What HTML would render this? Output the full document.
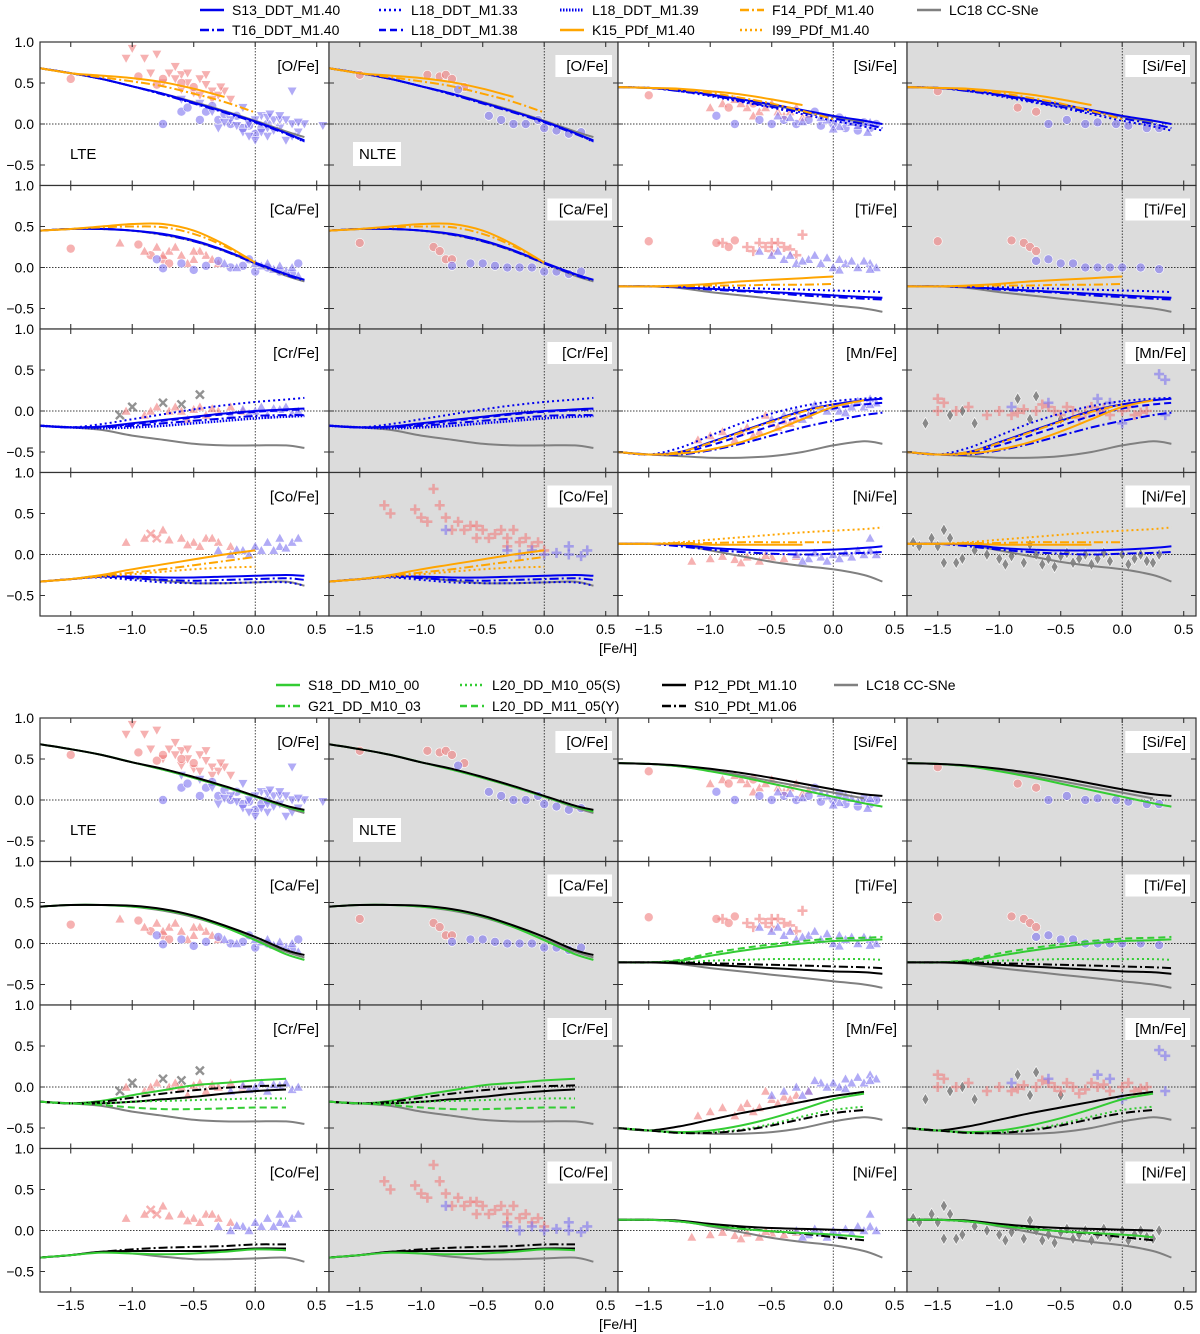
<!DOCTYPE html>
<html><head><meta charset="utf-8"><style>
html,body{margin:0;padding:0;background:#fff;}
svg{display:block;font-family:"Liberation Sans","DejaVu Sans",sans-serif;}
</style></head><body>
<svg id="fig" width="1200" height="1334" viewBox="0 0 1200 1334" xmlns="http://www.w3.org/2000/svg"></svg>
<script>
// ---------- data ----------
const gridX = [-1.75,-1.5,-1.25,-1.0,-0.75,-0.5,-0.25,0,0.25,0.4];
const xTicks = [-1.5,-1.0,-0.5,0.0,0.5];
const xTickLabels = ["\u22121.5","\u22121.0","\u22120.5","0.0","0.5"];
const yTicks = [1.0,0.5,0.0,-0.5];
const yTickLabels = ["1.0","0.5","0.0","\u22120.5"];
const panelRows = [["O","Si"],["Ca","Ti"],["Cr","Mn"],["Co","Ni"]];

const topCurves = {
 O:{LC:[0.68,0.62,0.55,0.46,0.37,0.27,0.16,0.04,-0.09,-0.16],S13:[0.68,0.62,0.55,0.46,0.37,0.26,0.15,0.03,-0.11,-0.2],T16:[0.68,0.62,0.55,0.46,0.36,0.25,0.14,0.02,-0.12,-0.21],L33:[0.68,0.62,0.55,0.46,0.36,0.26,0.15,0.03,-0.11,-0.22],K15:[0.68,0.62,0.59,0.56,0.51,0.43,0.33,null,null,null],F14:[0.68,0.62,0.57,0.52,0.46,0.37,0.27,0.14,null,null]},
 Si:{LC:[0.45,0.44,0.41,0.36,0.3,0.23,0.16,0.09,0.02,null],S13:[0.45,0.44,0.41,0.36,0.3,0.24,0.17,0.1,0.04,0.0],T16:[0.45,0.44,0.4,0.35,0.28,0.21,0.14,0.07,0.0,-0.05],L33:[0.45,0.44,0.4,0.34,0.27,0.2,0.12,0.04,-0.03,-0.08],K15:[0.45,0.44,0.43,0.4,0.36,0.3,0.23,null,null,null],F14:[0.45,0.44,0.42,0.38,0.32,0.25,0.16,0.06,null,null]},
 Ca:{LC:[0.45,0.47,0.47,0.45,0.4,0.32,0.2,0.05,-0.1,-0.17],S13:[0.45,0.47,0.47,0.45,0.41,0.33,0.21,0.06,-0.08,-0.15],T16:[0.45,0.47,0.47,0.45,0.4,0.32,0.2,0.05,-0.09,-0.16],K15:[0.45,0.47,0.5,0.53,0.53,0.45,0.28,0.06,null,null],F14:[0.45,0.47,0.49,0.5,0.49,0.41,0.26,0.06,null,null]},
 Ti:{LC:[-0.23,-0.23,-0.25,-0.3,-0.34,-0.38,-0.42,-0.46,-0.5,-0.54],S13:[-0.23,-0.23,-0.24,-0.26,-0.28,-0.3,-0.32,-0.34,-0.36,-0.37],T16:[-0.23,-0.23,-0.24,-0.27,-0.29,-0.31,-0.34,-0.36,-0.38,-0.39],L33:[-0.23,-0.23,-0.23,-0.24,-0.25,-0.26,-0.27,-0.28,-0.29,-0.3],K15:[-0.23,-0.23,-0.22,-0.2,-0.17,-0.15,-0.13,-0.11,null,null],F14:[-0.23,-0.23,-0.23,-0.22,-0.22,-0.21,-0.21,-0.2,null,null]},
 Cr:{LC:[-0.18,-0.2,-0.23,-0.3,-0.35,-0.4,-0.42,-0.42,-0.42,-0.45],S13:[-0.18,-0.2,-0.19,-0.15,-0.11,-0.07,-0.03,0.0,0.02,0.03],T16:[-0.18,-0.2,-0.2,-0.18,-0.15,-0.12,-0.09,-0.06,-0.05,-0.05],L33:[-0.18,-0.2,-0.16,-0.1,-0.04,0.02,0.07,0.11,0.14,0.16],L38:[-0.18,-0.2,-0.19,-0.16,-0.12,-0.08,-0.04,-0.01,0.01,0.02],L39:[-0.18,-0.2,-0.21,-0.2,-0.18,-0.15,-0.12,-0.09,-0.07,-0.06]},
 Mn:{LC:[-0.5,-0.53,-0.55,-0.57,-0.57,-0.55,-0.5,-0.42,-0.37,-0.4],S13:[-0.5,-0.53,-0.5,-0.38,-0.25,-0.12,0.0,0.08,0.13,0.15],L33:[-0.5,-0.53,-0.45,-0.3,-0.15,-0.03,0.06,0.12,0.15,0.16],T16:[-0.5,-0.53,-0.53,-0.48,-0.4,-0.3,-0.2,-0.12,-0.05,-0.02],L38:[-0.5,-0.53,-0.51,-0.42,-0.3,-0.18,-0.06,0.03,0.08,0.1],K15:[-0.5,-0.53,-0.52,-0.47,-0.38,-0.25,-0.1,0.05,0.13,null],F14:[-0.5,-0.53,-0.5,-0.39,-0.26,-0.13,-0.01,0.08,null,null]},
 Co:{LC:[-0.33,-0.3,-0.26,-0.28,-0.32,-0.35,-0.35,-0.34,-0.33,-0.38],S13:[-0.33,-0.3,-0.27,-0.27,-0.28,-0.28,-0.27,-0.26,-0.25,-0.26],L33:[-0.33,-0.3,-0.28,-0.31,-0.34,-0.35,-0.35,-0.34,-0.34,-0.38],T16:[-0.33,-0.3,-0.27,-0.29,-0.31,-0.32,-0.31,-0.3,-0.29,-0.31],K15:[-0.33,-0.3,-0.25,-0.18,-0.12,-0.06,0.0,0.05,null,null],F14:[-0.33,-0.3,-0.26,-0.22,-0.18,-0.13,-0.08,-0.03,null,null],I99:[-0.33,-0.3,-0.27,-0.24,-0.21,-0.18,-0.16,-0.15,null,null]},
 Ni:{LC:[0.13,0.13,0.12,0.05,-0.02,-0.09,-0.14,-0.18,-0.25,-0.33],S13:[0.13,0.13,0.12,0.08,0.06,0.05,0.05,0.06,0.08,0.1],T16:[0.13,0.13,0.1,0.06,0.03,0.01,0.0,0.01,0.02,0.03],K15:[0.13,0.13,0.13,0.12,0.12,0.12,0.12,null,null,null],F14:[0.13,0.13,0.14,0.14,0.15,0.15,0.15,0.15,null,null],I99:[0.13,0.13,0.15,0.18,0.21,0.24,0.27,0.29,0.31,0.33]}
};
const botCurves = {
 O:{LC:[0.68,0.62,0.55,0.46,0.37,0.27,0.16,0.04,-0.09,-0.16],S18:[0.68,0.62,0.55,0.46,0.37,0.27,0.16,0.04,-0.08,-0.14],P12:[0.68,0.62,0.55,0.46,0.38,0.28,0.17,0.05,-0.07,-0.12]},
 Si:{LC:[0.45,0.44,0.41,0.36,0.3,0.23,0.16,0.09,0.02,null],S18:[0.45,0.44,0.41,0.35,0.28,0.2,0.12,0.04,-0.04,-0.08],P12:[0.45,0.44,0.42,0.38,0.33,0.27,0.2,0.13,0.07,0.05]},
 Ca:{LC:[0.45,0.47,0.47,0.45,0.4,0.32,0.2,0.05,-0.1,-0.17],S18:[0.45,0.47,0.47,0.45,0.41,0.33,0.2,0.04,-0.13,-0.2],P12:[0.45,0.47,0.47,0.46,0.42,0.34,0.22,0.08,-0.08,-0.14]},
 Ti:{LC:[-0.23,-0.23,-0.25,-0.3,-0.34,-0.38,-0.42,-0.46,-0.5,-0.54],L20Y:[-0.23,-0.23,-0.2,-0.12,-0.06,-0.01,0.03,0.06,0.07,0.08],S18:[-0.23,-0.23,-0.21,-0.15,-0.09,-0.04,0.0,0.03,0.04,0.05],L20S:[-0.23,-0.23,-0.23,-0.21,-0.2,-0.19,-0.19,-0.19,-0.19,-0.2],P12:[-0.23,-0.23,-0.24,-0.26,-0.28,-0.3,-0.32,-0.34,-0.35,-0.37],S10:[-0.23,-0.23,-0.23,-0.24,-0.25,-0.26,-0.27,-0.28,-0.29,-0.3]},
 Cr:{LC:[-0.18,-0.2,-0.23,-0.3,-0.35,-0.4,-0.42,-0.42,-0.42,-0.45],S18:[-0.18,-0.2,-0.17,-0.1,-0.04,0.02,0.05,0.08,0.1,null],S10:[-0.18,-0.2,-0.18,-0.13,-0.08,-0.04,-0.01,0.01,0.02,null],P12:[-0.18,-0.2,-0.2,-0.18,-0.15,-0.12,-0.08,-0.05,-0.03,null],L20S:[-0.18,-0.2,-0.2,-0.18,-0.17,-0.16,-0.15,-0.14,-0.14,null],L20Y:[-0.18,-0.2,-0.22,-0.25,-0.27,-0.27,-0.26,-0.25,-0.25,null]},
 Mn:{LC:[-0.5,-0.53,-0.55,-0.57,-0.57,-0.55,-0.5,-0.42,-0.37,-0.4],P12:[-0.5,-0.53,-0.48,-0.4,-0.32,-0.25,-0.18,-0.11,-0.06,null],S18:[-0.5,-0.53,-0.55,-0.53,-0.47,-0.38,-0.27,-0.15,-0.08,null],L20S:[-0.5,-0.53,-0.56,-0.55,-0.52,-0.45,-0.36,-0.28,-0.24,null],S10:[-0.5,-0.53,-0.56,-0.56,-0.53,-0.47,-0.39,-0.32,-0.28,null]},
 Co:{LC:[-0.33,-0.3,-0.26,-0.28,-0.32,-0.35,-0.35,-0.34,-0.33,-0.38],S10:[-0.33,-0.3,-0.26,-0.23,-0.21,-0.2,-0.19,-0.17,-0.17,null],P12:[-0.33,-0.3,-0.26,-0.25,-0.25,-0.25,-0.24,-0.22,-0.22,null],S18:[-0.33,-0.3,-0.27,-0.28,-0.29,-0.28,-0.26,-0.23,-0.24,null]},
 Ni:{LC:[0.13,0.13,0.12,0.05,-0.02,-0.09,-0.14,-0.18,-0.25,-0.33],P12:[0.13,0.13,0.12,0.08,0.05,0.03,0.02,0.01,0.0,null],S10:[0.13,0.13,0.11,0.07,0.03,-0.01,-0.04,-0.08,-0.12,null],S18:[0.13,0.13,0.11,0.06,0.02,-0.01,-0.03,-0.05,-0.08,null]}
};

const scatterSets = {
 OL:[{m:"v",c:"r",p:[[-1.0,0.92],[-1.05,0.8],[-0.9,0.8],[-0.8,0.85],[-0.85,0.62],[-0.7,0.62],[-0.6,0.6],[-0.65,0.55],[-0.55,0.5],[-0.45,0.55],[-0.4,0.48],[-0.35,0.4],[-0.3,0.35],[-0.5,0.38],[-0.2,0.3],[-0.25,0.4],[-0.75,0.5],[-0.6,0.42],[-0.45,0.35],[-0.35,0.3],[-0.55,0.62],[-0.65,0.7],[-0.28,0.45],[-0.4,0.6]]},
     {m:"o",c:"r",p:[[-1.5,0.55],[-0.95,0.58],[-0.75,0.55],[-0.6,0.5],[-0.8,0.48],[-0.5,0.45]]},
     {m:"o",c:"b",p:[[-0.75,0.0],[-0.6,0.15],[-0.55,0.2],[-0.4,0.15],[-0.3,0.05],[-0.2,0.0],[-0.1,-0.05],[0.0,-0.12],[0.05,-0.05],[-0.15,0.1],[-0.45,0.05],[-0.35,0.22],[-0.25,0.12],[0.1,0.0],[-0.05,-0.02]]},
     {m:"v",c:"b",p:[[-0.6,0.3],[-0.45,0.25],[-0.35,0.15],[-0.2,0.05],[-0.1,-0.1],[0,-0.2],[0.1,-0.15],[0.2,-0.05],[0.3,0.0],[0.35,-0.1],[0.15,0.05],[0.05,0.1],[-0.1,0.2],[0.25,-0.2],[-0.05,0.0],[0.4,0.0],[0.55,-0.02],[0.3,0.4],[0.1,0.08],[0.2,0.05],[-0.3,-0.05],[-0.15,-0.02],[0.0,0.05],[0.05,-0.1],[0.15,-0.08],[0.25,0.05],[0.3,-0.15],[0.2,0.1],[-0.25,0.02],[0.1,-0.05],[0.35,0.02],[-0.05,-0.15],[0.12,0.12]]}],
 ON:[{m:"o",c:"r",p:[[-1.5,0.6],[-0.95,0.6],[-0.85,0.58],[-0.8,0.6],[-0.75,0.55],[-0.65,0.45]]},
     {m:"o",c:"b",p:[[-0.7,0.42],[-0.45,0.1],[-0.35,0.05],[-0.25,0.0],[-0.15,0.0],[-0.05,0.05],[0.0,-0.05],[0.1,-0.08],[0.2,-0.12],[0.3,-0.1]]}],
 SiL:[{m:"^",c:"r",p:[[-1.0,0.2],[-0.9,0.25],[-0.8,0.3],[-0.7,0.2],[-0.6,0.15],[-0.5,0.25],[-0.4,0.1],[-0.3,0.2],[-0.2,0.12],[-0.45,0.15],[-0.75,0.25],[-0.55,0.2],[-0.35,0.15],[-0.25,0.08],[-0.65,0.1]]},
      {m:"o",c:"r",p:[[-1.5,0.35],[-0.85,0.2],[-0.65,0.25]]},
      {m:"o",c:"b",p:[[-0.6,0.05],[-0.5,0.0],[-0.4,0.05],[-0.3,0.0],[-0.2,0.05],[-0.1,-0.02],[0,0.0],[0.1,-0.05],[0.2,-0.08],[0.3,-0.05],[0.35,0.0],[-0.15,0.15],[0.05,0.08],[0.25,0.02],[-0.8,0.0],[-0.95,0.1]]},
      {m:"^",c:"b",p:[[-0.35,0.08],[-0.25,0.03],[-0.05,0.05],[0.05,-0.03],[0.15,0.02],[0.2,-0.02],[0.3,0.02],[0.1,0.05],[-0.1,0.08],[0.0,-0.06],[-0.45,0.1],[0.28,-0.1]]}],
 SiN:[{m:"o",c:"r",p:[[-1.5,0.4],[-0.85,0.2],[-0.7,0.15]]},
      {m:"o",c:"b",p:[[-0.6,0.0],[-0.45,0.05],[-0.3,0.0],[-0.2,0.02],[-0.05,0.0],[0.05,-0.02],[0.2,-0.05],[0.3,-0.05]]}],
 CaL:[{m:"o",c:"r",p:[[-1.5,0.23],[-0.95,0.28],[-0.85,0.15],[-0.75,0.1],[-0.7,0.05]]},
      {m:"^",c:"r",p:[[-1.1,0.3],[-0.9,0.2],[-0.8,0.25],[-0.7,0.2],[-0.6,0.15],[-0.5,0.1],[-0.4,0.15],[-0.3,0.05],[-0.55,0.05],[-0.45,0.2],[-0.75,0.15],[-0.65,0.25],[-0.35,0.1],[-0.5,0.2]]},
      {m:"o",c:"b",p:[[-0.8,0.1],[-0.75,-0.01],[-0.6,0.05],[-0.5,-0.03],[-0.4,0.02],[-0.3,0.08],[-0.2,0.0],[-0.1,0.02],[0.0,-0.05],[0.1,0.0],[0.2,-0.05],[0.3,-0.08],[0.35,0.05],[-0.05,0.1]]},
      {m:"^",c:"b",p:[[-0.25,0.05],[-0.15,0.0],[0.05,0.02],[0.15,-0.02],[0.25,-0.04],[0.3,0.0],[0.0,0.05],[0.1,0.05],[0.35,-0.1],[0.2,0.02]]}],
 CaN:[{m:"o",c:"r",p:[[-1.5,0.3],[-0.9,0.25],[-0.85,0.2],[-0.8,0.1],[-0.75,0.1]]},
      {m:"o",c:"b",p:[[-0.75,0.02],[-0.6,0.05],[-0.5,0.05],[-0.4,0.02],[-0.3,0.0],[-0.2,0.0],[-0.1,0.0],[0.0,-0.05],[0.1,-0.05],[0.2,-0.08],[0.3,-0.05]]}],
 TiL:[{m:"o",c:"r",p:[[-1.5,0.32],[-0.95,0.3],[-0.85,0.25],[-0.8,0.33]]},
      {m:"+",c:"r",p:[[-0.9,0.3],[-0.7,0.25],[-0.6,0.3],[-0.5,0.2],[-0.4,0.25],[-0.45,0.3],[-0.3,0.15],[-0.35,0.22],[-0.25,0.4],[-0.55,0.25],[-0.65,0.2],[-0.5,0.3]]},
      {m:"^",c:"b",p:[[-0.5,0.15],[-0.4,0.1],[-0.3,0.05],[-0.2,0.1],[-0.1,0.05],[0.0,0.0],[0.1,0.05],[0.2,0.0],[0.3,0.05],[0.35,0.0],[-0.15,0.15],[0.05,0.1],[-0.6,0.2],[0.25,0.08],[-0.35,0.15],[-0.25,0.08],[-0.05,0.12],[0.15,0.08],[0.05,-0.03],[0.3,-0.02],[-0.45,0.2]]}],
 TiN:[{m:"o",c:"r",p:[[-1.5,0.32],[-0.9,0.33],[-0.8,0.3],[-0.75,0.25],[-0.7,0.2]]},
      {m:"o",c:"b",p:[[-0.7,0.08],[-0.6,0.1],[-0.5,0.05],[-0.4,0.05],[-0.3,0.0],[-0.2,0.0],[-0.1,0.0],[0,0.0],[0.15,0.0],[0.3,-0.02]]}],
 CrL:[{m:"x",c:"g",p:[[-1.1,-0.05],[-0.75,0.1],[-0.6,0.08],[-0.45,0.2],[-1.0,0.05]]},
      {m:"^",c:"r",p:[[-1.05,0.0],[-0.9,-0.05],[-0.8,0.05],[-0.7,0.0],[-0.6,0.0],[-0.5,0.02],[-0.4,-0.05],[-0.3,0.0],[-0.2,0.05],[-0.1,0.0],[-0.55,-0.1],[-0.65,0.05],[-0.45,0.05],[-0.35,0.03],[-0.85,0.0]]},
      {m:"^",c:"b",p:[[-0.2,-0.05],[-0.1,0.02],[0,0.0],[0.1,-0.05],[0.2,0.02],[0.3,-0.03],[0.35,0.0],[0.05,0.05],[-0.05,-0.03],[0.15,0.03],[0.25,0.05]]}],
 CrN:[],
 MnL:[{m:"^",c:"r",p:[[-1.1,-0.35],[-1.0,-0.3],[-0.9,-0.25],[-0.8,-0.35],[-0.7,-0.2],[-0.6,-0.25],[-0.5,-0.15],[-0.4,-0.12],[-0.3,-0.1],[-0.2,-0.05],[-0.55,-0.05],[-0.65,-0.3],[-0.75,-0.25],[-0.45,-0.2],[-0.35,-0.15]]},
      {m:"^",c:"b",p:[[-0.5,-0.1],[-0.4,-0.05],[-0.3,0.0],[-0.2,-0.05],[-0.1,0.05],[0.0,0.05],[0.1,0.1],[0.2,0.12],[0.3,0.15],[0.35,0.1],[0.05,0.0],[0.25,0.05],[-0.15,0.08],[-0.05,0.0],[0.15,0.05],[0.3,0.08],[0.1,-0.02],[-0.25,-0.1]]}],
 MnN:[{m:"d",c:"g",p:[[-1.6,-0.15],[-1.4,-0.05],[-1.3,0.0],[-1.2,-0.15],[-0.85,0.15],[-0.7,0.18],[-0.75,-0.1],[-0.5,-0.1]]},
      {m:"+",c:"r",p:[[-1.5,0.15],[-1.45,0.1],[-1.5,0.0],[-1.35,0.0],[-1.25,0.05],[-1.1,-0.05],[-1.0,0.0],[-0.9,-0.05],[-0.8,0.02],[-0.7,0.0],[-0.6,0.05],[-0.5,-0.05],[-0.4,0.0],[-0.3,-0.03],[-0.2,0.0],[-0.1,-0.05],[0.0,0.0],[0.1,-0.05],[0.2,0.0],[-0.65,0.08],[-0.55,0.0],[-0.45,0.05],[-0.35,-0.08],[-0.15,0.03],[0.05,0.05],[0.15,-0.02],[-0.85,-0.02],[-0.25,0.05]]},
      {m:"+",c:"b",p:[[-0.9,0.05],[-0.6,0.1],[-0.2,0.15],[-0.1,0.1],[0.3,0.45],[0.35,0.38],[0.0,-0.15],[0.35,-0.05]]}],
 CoL:[{m:"^",c:"r",p:[[-1.05,0.15],[-0.9,0.2],[-0.75,0.3],[-0.6,0.2],[-0.5,0.15],[-0.4,0.2],[-0.3,0.15],[-0.2,0.1],[-0.7,0.18],[-0.55,0.12],[-0.35,0.2],[-0.45,0.1]]},
      {m:"x",c:"r",p:[[-0.85,0.25],[-0.8,0.2]]},
      {m:"^",c:"b",p:[[-0.3,0.05],[-0.2,0.0],[-0.1,0.05],[0,0.1],[0.1,0.15],[0.2,0.1],[0.3,0.15],[0.35,0.2],[-0.05,0.0],[0.15,0.05],[0.05,0.05],[0.25,0.08],[-0.15,0.06],[0.2,0.2]]}],
 CoN:[{m:"+",c:"r",p:[[-1.3,0.6],[-1.25,0.5],[-1.05,0.55],[-0.9,0.8],[-0.85,0.6],[-0.8,0.45],[-0.7,0.4],[-0.6,0.35],[-0.5,0.3],[-0.4,0.25],[-0.3,0.2],[-0.2,0.15],[-0.1,0.1],[0.0,0.05],[-0.95,0.4],[-0.55,0.2],[-0.25,0.3],[-0.75,0.3],[-1.0,0.45],[-0.15,0.2],[-0.65,0.3],[-0.45,0.2],[-0.35,0.3],[-0.05,0.15],[-0.55,0.35],[-0.3,0.1]]},
      {m:"+",c:"b",p:[[-0.3,0.05],[-0.2,0.0],[-0.1,0.05],[0.0,0.0],[0.1,0.02],[0.2,0.0],[0.3,-0.02],[0.35,0.05],[-0.8,0.3],[0.2,0.1]]}],
 NiL:[{m:"^",c:"r",p:[[-1.15,-0.08],[-1.0,-0.05],[-0.9,-0.02],[-0.8,-0.06],[-0.7,-0.03],[-0.6,-0.08],[-0.5,-0.03],[-0.4,-0.05],[-0.3,-0.02],[-0.75,-0.1],[-0.55,-0.01]]},
      {m:"^",c:"b",p:[[-0.3,0.0],[-0.2,-0.05],[-0.1,-0.03],[0.0,0.0],[0.1,0.02],[0.2,0.05],[0.3,0.05],[0.35,0.0],[0.3,0.2],[-0.05,-0.08],[0.05,-0.05],[0.15,-0.03],[0.25,0.0],[-0.15,0.02],[-0.25,-0.08]]}],
 NiN:[{m:"d",c:"g",p:[[-1.7,0.15],[-1.65,0.1],[-1.55,0.2],[-1.5,0.1],[-1.45,-0.1],[-1.4,0.2],[-1.35,-0.1],[-1.3,-0.05],[-1.2,0.05],[-1.1,0.0],[-1.0,-0.05],[-0.9,-0.02],[-0.8,-0.1],[-0.7,0.0],[-0.6,-0.05],[-0.5,-0.02],[-0.4,-0.1],[-0.3,0.0],[-0.2,-0.05],[-0.1,-0.08],[0.0,0.0],[0.1,-0.05],[0.2,-0.08],[0.3,0.0],[-0.75,0.12],[-1.45,0.3],[-0.65,-0.12],[-0.45,0.02],[-0.25,-0.12],[-0.15,0.02],[0.05,-0.12],[0.15,0.0],[0.25,-0.1],[-0.35,-0.05],[-0.55,-0.15],[-0.95,-0.12]]}]
};

const topLegend = [["S13","S13_DDT_M1.40"],["T16","T16_DDT_M1.40"],["L33","L18_DDT_M1.33"],["L38","L18_DDT_M1.38"],["L39","L18_DDT_M1.39"],["K15","K15_PDf_M1.40"],["F14","F14_PDf_M1.40"],["I99","I99_PDf_M1.40"],["LC","LC18 CC-SNe"]];
const botLegend = [["S18","S18_DD_M10_00"],["G21","G21_DD_M10_03"],["L20S","L20_DD_M10_05(S)"],["L20Y","L20_DD_M11_05(Y)"],["P12","P12_PDt_M1.10"],["S10","S10_PDt_M1.06"],["LC","LC18 CC-SNe"]];

// ---------- styles / layout ----------
const ST = {
 S13:{c:"#0000ee",d:"",w:2}, T16:{c:"#0000ee",d:"9 3 2 3",w:2}, L33:{c:"#0000ee",d:"2 3",w:2},
 L38:{c:"#0000ee",d:"7 4",w:2}, L39:{c:"#0000ee",d:"1.5 1.5",w:2.5},
 K15:{c:"#ffa500",d:"",w:2}, F14:{c:"#ffa500",d:"9 3 2 3",w:2}, I99:{c:"#ffa500",d:"2 3",w:2},
 LC:{c:"#808080",d:"",w:2},
 S18:{c:"#33cc33",d:"",w:2}, G21:{c:"#33cc33",d:"9 3 2 3",w:2}, L20S:{c:"#33cc33",d:"2 3",w:2}, L20Y:{c:"#33cc33",d:"7 4",w:2},
 P12:{c:"#000000",d:"",w:2}, S10:{c:"#000000",d:"9 3 2 3",w:2}
};
const COL = {r:"rgba(240,125,125,0.6)", b:"rgba(125,115,240,0.6)", g:"rgba(110,110,110,0.75)"};
const colL = [40,329,618,907], colW = 289, rowH = 143.5;
const figTops = [42,718];
const NS = "http://www.w3.org/2000/svg";
const svg = document.getElementById("fig");
function el(tag, attrs, parent){ const e=document.createElementNS(NS,tag); for(const k in attrs) e.setAttribute(k,attrs[k]); (parent||svg).appendChild(e); return e; }
function sx(v,c){ return colL[c] + (v+1.75)/2.35*colW; }
function sy(v,top){ return top + (1.0-v)/1.75*rowH; }

function drawMarker(g,m,x,y,col){
 let e;
 if(m==="o"){ e=el("circle",{cx:x,cy:y,r:4.5,fill:col,stroke:"#fff","stroke-width":0.6},g); }
 else if(m==="v"){ e=el("polygon",{points:`${x-5},${y-4} ${x+5},${y-4} ${x},${y+5}`,fill:col,stroke:"#fff","stroke-width":0.6},g); }
 else if(m==="^"){ e=el("polygon",{points:`${x-5},${y+4} ${x+5},${y+4} ${x},${y-5}`,fill:col,stroke:"#fff","stroke-width":0.6},g); }
 else if(m==="d"){ e=el("polygon",{points:`${x},${y-6} ${x+3.5},${y} ${x},${y+6} ${x-3.5},${y}`,fill:col,stroke:"#fff","stroke-width":0.6},g); }
 else if(m==="+"){ e=el("path",{d:`M${x-5},${y}H${x+5}M${x},${y-5}V${y+5}`,stroke:col,"stroke-width":2.6},g); }
 else { e=el("path",{d:`M${x-4},${y-4}L${x+4},${y+4}M${x+4},${y-4}L${x-4},${y+4}`,stroke:col,"stroke-width":2.4},g); }
 
 
}

// smooth path (Catmull-Rom -> cubic Bezier) through screen points
function smoothPath(pts){
 if(pts.length<2) return "";
 let d=`M${pts[0][0].toFixed(1)},${pts[0][1].toFixed(1)}`;
 for(let i=0;i<pts.length-1;i++){
  const p0=pts[Math.max(i-1,0)], p1=pts[i], p2=pts[i+1], p3=pts[Math.min(i+2,pts.length-1)];
  const c1=[p1[0]+(p2[0]-p0[0])/6, p1[1]+(p2[1]-p0[1])/6];
  const c2=[p2[0]-(p3[0]-p1[0])/6, p2[1]-(p3[1]-p1[1])/6];
  d+=`C${c1[0].toFixed(1)},${c1[1].toFixed(1)} ${c2[0].toFixed(1)},${c2[1].toFixed(1)} ${p2[0].toFixed(1)},${p2[1].toFixed(1)}`;
 }
 return d;
}

function drawPanel(fi,r,c,elem,curves){
 const top = figTops[fi]+r*rowH, left=colL[c], nlte=(c===1||c===3);
 const g = el("g",{});
 
 
 const clip = `clip${fi}${r}${c}`;
 const cp = el("clipPath",{id:clip},g); el("rect",{x:left,y:top,width:colW,height:rowH},cp);
 el("rect",{x:left,y:top,width:colW,height:rowH,fill:nlte?"#dcdcdc":"#fff"},g);
 el("line",{x1:left,x2:left+colW,y1:sy(0,top),y2:sy(0,top),stroke:"#000","stroke-width":0.7,"stroke-dasharray":"1.5 1.5"},g);
 el("line",{x1:sx(0,c),x2:sx(0,c),y1:top,y2:top+rowH,stroke:"#000","stroke-width":0.7,"stroke-dasharray":"1.5 1.5"},g);
 const inner = el("g",{"clip-path":`url(#${clip})`},g);
 const sets = scatterSets[elem+(nlte?"N":"L")] || [];
 sets.forEach(s=>s.p.forEach(pt=>drawMarker(inner,s.m,sx(pt[0],c),sy(pt[1],top),COL[s.c])));
 const keys = Object.keys(curves).sort((a,b)=>(a==="LC"?-1:0)-(b==="LC"?-1:0));
 keys.forEach(k=>{
  const st=ST[k]; const vals=curves[k];
  const pts=[]; vals.forEach((v,i)=>{ if(v!==null) pts.push([sx(gridX[i],c),sy(v,top)]); });
  const p=el("path",{d:smoothPath(pts),fill:"none",stroke:st.c,"stroke-width":st.w,"stroke-dasharray":st.d,"stroke-linejoin":"round"},inner);
  
  
 });
 el("rect",{x:left,y:top,width:colW,height:rowH,fill:"none",stroke:"#333","stroke-width":1.2},g);
 let td="";
 xTicks.forEach(v=>{ const x=sx(v,c); if(x>left+1&&x<left+colW-1) td+=`M${x},${top}v5M${x},${top+rowH}v-5`; });
 [0.5,0,-0.5].forEach(v=>{ const y=sy(v,top); td+=`M${left},${y}h5M${left+colW},${y}h-5`; });
 el("path",{d:td,stroke:"#333","stroke-width":1.1,fill:"none"},g);
 const lab=`[${elem}/Fe]`;
 const tw=lab.length*8.1;
 if(nlte){ el("rect",{x:left+colW-10-tw-4,y:top+13,width:tw+8,height:22,fill:"#fff"},g); }
 const t=el("text",{x:left+colW-10,y:top+29,"text-anchor":"end","font-size":15,fill:"#000"},g);
 t.textContent=lab;
 
 
 if(r===0 && (c===0||c===1)){
  if(c===1) el("rect",{x:left+24,y:top+100,width:48,height:24,fill:"#fff"},g);
  const lt=el("text",{x:left+30,y:top+117,"font-size":15,fill:"#000"},g);
  lt.textContent = c===0?"LTE":"NLTE";
  
  
 }
 if(c===0){
  yTicks.forEach((v,i)=>{ const tt=el("text",{x:34,y:sy(v,top)+5,"text-anchor":"end","font-size":14,fill:"#000"}); tt.textContent=yTickLabels[i];
     });
 }
 if(r===3){
  xTicks.forEach((v,i)=>{ const tt=el("text",{x:sx(v,c),y:top+rowH+18,"text-anchor":"middle","font-size":14,fill:"#000"}); tt.textContent=xTickLabels[i];
     });
 }
}

function drawLegend(items, pos){
 items.forEach((it,i)=>{
  const [lx,ly]=pos[i]; const st=ST[it[0]];
  const g=el("g",{});
  
  
  el("line",{x1:lx,x2:lx+24,y1:ly,y2:ly,stroke:st.c,"stroke-width":st.w+0.5,"stroke-dasharray":st.d},g);
  const t=el("text",{x:lx+32,y:ly+5,"font-size":14,fill:"#000"},g); t.textContent=it[1];
 });
}

for(let fi=0;fi<2;fi++){
 const cv = fi===0?topCurves:botCurves;
 for(let r=0;r<4;r++) for(let c=0;c<4;c++){
  const elem = panelRows[r][c<2?0:1];
  drawPanel(fi,r,c,elem,cv[elem]);
 }
 const xl=el("text",{x:618,y:figTops[fi]+4*rowH+37,"text-anchor":"middle","font-size":14,fill:"#000"});
 xl.textContent="[Fe/H]";
 
 
}
drawLegend(topLegend,[[200,10],[200,30],[379,10],[379,30],[560,10],[560,30],[740,10],[740,30],[917,10]]);
drawLegend(botLegend,[[276,685],[276,706],[460,685],[460,706],[662,685],[662,706],[834,685]]);
</script>
</body></html>
